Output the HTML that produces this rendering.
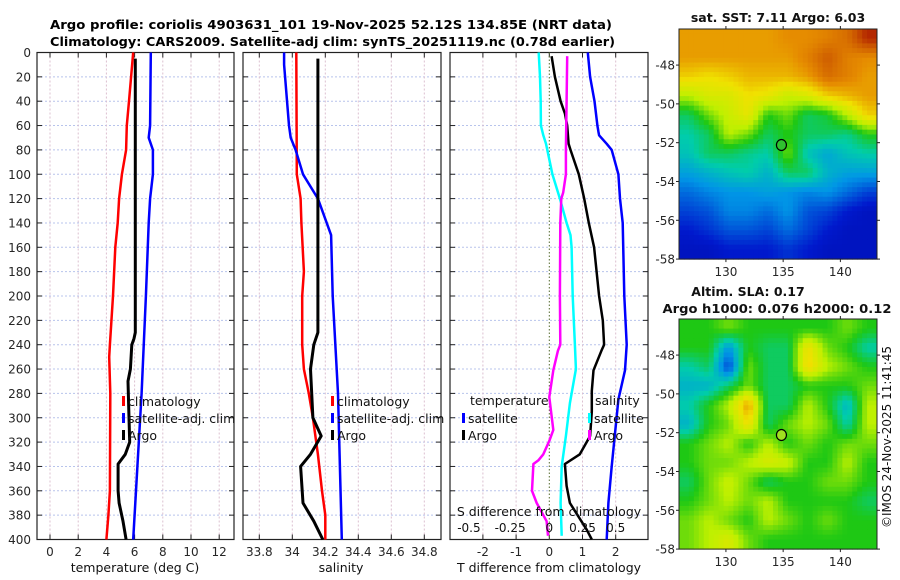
<!DOCTYPE html>
<html><head><meta charset="utf-8"><style>
html,body{margin:0;padding:0;background:#fff;}
svg{display:block;font-family:"DejaVu Sans","Liberation Sans",sans-serif;}
</style></head><body>
<svg id="fig" width="900" height="580" viewBox="0 0 900 580" xmlns="http://www.w3.org/2000/svg">
<rect x="0" y="0" width="900" height="580" fill="#fff"/>
<text x="50" y="29" font-size="12.5" font-weight="bold" textLength="562" lengthAdjust="spacingAndGlyphs">Argo profile: coriolis 4903631_101 19-Nov-2025 52.12S 134.85E (NRT data)</text>
<text x="50" y="46" font-size="12.5" font-weight="bold" textLength="565" lengthAdjust="spacingAndGlyphs">Climatology: CARS2009. Satellite-adj clim: synTS_20251119.nc (0.78d earlier)</text>
<g id="layer"></g>
</svg>
<script>
// ---- profile data ----
const depthTicks=[0,20,40,60,80,100,120,140,160,180,200,220,240,260,280,300,320,340,360,380,400];
const tempTicks=[0,2,4,6,8,10,12];
const salTicks=[33.8,34,34.2,34.4,34.6,34.8];
const tdiffTicks=[-2,-1,0,1,2];
const sdiffTicks=[-0.5,-0.25,0,0.25,0.5];

const tClimDepth=[0,40,60,80,100,120,140,160,200,240,250,280,360,380,400];
const tClimVal=[5.9,5.6,5.45,5.4,5.1,4.9,4.8,4.63,4.47,4.25,4.2,4.28,4.25,4.14,4.0];
const tSatDepth=[0,60,70,80,100,120,140,200,280,320,400];
const tSatVal=[7.15,7.1,7.0,7.3,7.3,7.1,7.0,6.8,6.5,6.3,5.9];
const tArgoDepth=[5,230,235,240,260,270,300,320,330,338,360,370,385,400];
const tArgoVal=[6.05,6.05,5.96,5.8,5.7,5.53,5.6,5.65,5.34,4.83,4.83,4.9,5.18,5.4];

const sClimDepth=[0,100,120,140,180,200,240,260,280,300,330,360,380,400];
const sClimVal=[34.024,34.027,34.05,34.055,34.07,34.06,34.06,34.07,34.10,34.125,34.155,34.18,34.2,34.2];
const sSatDepth=[0,10,60,70,80,100,120,150,200,280,400];
const sSatVal=[33.95,33.95,33.98,33.99,34.02,34.065,34.155,34.235,34.245,34.277,34.3];
const sArgoDepth=[5,230,240,260,300,315,330,340,370,385,400];
const sArgoVal=[34.155,34.155,34.13,34.11,34.125,34.175,34.11,34.05,34.065,34.13,34.185];

const dTSatDepth=[0,20,40,60,65,68,75,80,100,120,140,200,240,261,285,340,370,400];
const dTSatVal=[1.16,1.23,1.36,1.45,1.48,1.5,1.73,1.88,2.08,2.13,2.21,2.26,2.33,2.28,2.08,1.88,1.78,1.73];
const dSSatDepth=[0,20,40,60,68,75,80,100,120,140,150,160,200,240,260,288,315,340,370,397];
const dSSatVal=[-0.08,-0.07,-0.065,-0.063,-0.045,-0.025,-0.015,0.023,0.08,0.13,0.16,0.168,0.176,0.193,0.2,0.155,0.125,0.093,0.085,0.093];
const dTArgoDepth=[3,20,40,50,60,75,80,100,120,140,160,200,220,240,245,261,278,295,315,330,338,356,370,392,400];
const dTArgoVal=[0.07,0.17,0.34,0.47,0.54,0.58,0.64,0.89,1.05,1.19,1.35,1.5,1.61,1.65,1.57,1.33,1.28,1.28,1.23,0.92,0.47,0.52,0.62,1.13,1.28];
const dSArgoDepth=[3,40,80,100,115,120,140,200,240,245,261,283,310,319,330,335,338,360,370,385,397];
const dSArgoVal=[0.135,0.13,0.125,0.125,0.105,0.09,0.083,0.08,0.083,0.065,0.03,0.0,0.03,0.0,-0.045,-0.083,-0.12,-0.13,-0.095,-0.02,-0.01];

// ---- map data (colormap index 0..1) ----
const sstGrid=[
[0.78,0.78,0.78,0.78,0.78,0.8,0.8,0.82,0.85,0.95],
[0.78,0.78,0.78,0.78,0.78,0.78,0.82,0.88,0.82,0.8],
[0.72,0.7,0.72,0.75,0.75,0.75,0.78,0.85,0.82,0.78],
[0.6,0.65,0.65,0.7,0.68,0.62,0.65,0.72,0.75,0.78],
[0.45,0.55,0.62,0.68,0.5,0.55,0.45,0.48,0.6,0.72],
[0.4,0.45,0.6,0.55,0.45,0.5,0.45,0.45,0.42,0.5],
[0.38,0.45,0.45,0.42,0.4,0.55,0.38,0.33,0.38,0.4],
[0.32,0.35,0.38,0.4,0.35,0.45,0.45,0.35,0.32,0.32],
[0.25,0.28,0.3,0.3,0.32,0.3,0.28,0.3,0.25,0.2],
[0.2,0.22,0.28,0.28,0.25,0.3,0.22,0.2,0.15,0.12],
[0.15,0.18,0.22,0.22,0.2,0.25,0.2,0.15,0.12,0.12],
[0.12,0.12,0.15,0.15,0.15,0.18,0.15,0.12,0.12,0.12]];
const slaGrid=[
[0.5,0.5,0.55,0.5,0.5,0.5,0.5,0.5,0.55,0.5],
[0.5,0.5,0.3,0.5,0.45,0.45,0.7,0.55,0.5,0.4],
[0.4,0.45,0.2,0.55,0.45,0.45,0.72,0.6,0.55,0.5],
[0.35,0.35,0.45,0.55,0.45,0.45,0.5,0.5,0.5,0.55],
[0.4,0.5,0.6,0.78,0.45,0.45,0.6,0.5,0.35,0.6],
[0.35,0.5,0.55,0.7,0.45,0.55,0.6,0.55,0.4,0.6],
[0.5,0.55,0.6,0.5,0.6,0.5,0.55,0.5,0.55,0.55],
[0.5,0.55,0.55,0.6,0.65,0.62,0.5,0.5,0.6,0.5],
[0.45,0.55,0.62,0.55,0.45,0.5,0.5,0.55,0.55,0.5],
[0.5,0.55,0.6,0.55,0.6,0.5,0.5,0.5,0.5,0.45],
[0.55,0.6,0.55,0.5,0.6,0.55,0.5,0.55,0.5,0.5],
[0.55,0.6,0.65,0.55,0.5,0.5,0.5,0.5,0.5,0.5]];
const latTicks=[-48,-50,-52,-54,-56,-58];
const lonTicks=[130,135,140];
const argoLon=[134.85];
const argoLat=[-52.12];

const NS="http://www.w3.org/2000/svg";
const L=document.getElementById('layer');
function mk(tag,at,parent){const e=document.createElementNS(NS,tag);for(const k in at)e.setAttribute(k,at[k]);(parent||L).appendChild(e);return e;}

const Y0=52.5, Y1=539.5;
const yD=d=>Y0+d*(Y1-Y0)/400;
const xT=v=>50+v*14.1;
const xS=v=>259.3+(v-33.8)*165;
const xDT=v=>549.3+v*33.2;
const xDS=v=>549.3+v*132.8;

const panels=[{x0:37,x1:234,name:'temperature-panel',ticks:tempTicks,fx:xT},
{x0:243,x1:441,name:'salinity-panel',ticks:salTicks,fx:xS},
{x0:450,x1:648,name:'difference-panel',ticks:tdiffTicks,fx:xDT}];

panels.forEach((p,pi)=>{
 const g=mk('g',{});
 
 
 depthTicks.forEach(d=>{
  if(d>0&&d<400){const l=mk('line',{x1:p.x0,x2:p.x1,y1:yD(d),y2:yD(d),stroke:'#b8c4ec','stroke-width':1,'stroke-dasharray':'2,2'},g);
  
  }
  mk('line',{x1:p.x0,x2:p.x0+5,y1:yD(d),y2:yD(d),stroke:'#222'},g);
  mk('line',{x1:p.x1-5,x2:p.x1,y1:yD(d),y2:yD(d),stroke:'#222'},g);
 });
 p.ticks.forEach(t=>{
  const x=p.fx(t);
  const l=mk('line',{x1:x,x2:x,y1:Y0,y2:Y1,stroke:(pi==2&&t==0)?'none':'#dcc0d0','stroke-width':1,'stroke-dasharray':'2,2'},g);
  
  
  mk('line',{x1:x,x2:x,y1:Y1,y2:Y1-5,stroke:'#222'},g);
  mk('line',{x1:x,x2:x,y1:Y0,y2:Y0+5,stroke:'#222'},g);
  const tx=mk('text',{x:x,y:556,'font-size':12,'text-anchor':'middle',fill:'#262626'},g);
  tx.textContent=String(t);
  
  
 });
 const fr=mk('rect',{x:p.x0,y:Y0,width:p.x1-p.x0,height:Y1-Y0,fill:'none',stroke:'#222','stroke-width':1.2},g);
 
 
});
depthTicks.forEach(d=>{
 const t=mk('text',{x:31,y:yD(d)+4.5,'font-size':12,'text-anchor':'end',fill:'#262626'});
 t.textContent=String(d);
 
 
});
const zl=mk('line',{x1:xDT(0),x2:xDT(0),y1:Y0,y2:Y1,stroke:'#556b2f','stroke-width':1,'stroke-dasharray':'1.5,2'});



function series(depths,vals,fx,color,w,name){
 const pts=depths.map((d,i)=>fx(vals[i]).toFixed(1)+','+yD(d).toFixed(1)).join(' ');
 const pl=mk('polyline',{points:pts,fill:'none',stroke:color,'stroke-width':w,'stroke-linejoin':'round'});
 
 
}
series(tClimDepth,tClimVal,xT,'#f00',2.5,'temp-climatology-line');
series(tSatDepth,tSatVal,xT,'#00f',2.5,'temp-satellite-line');
series(tArgoDepth,tArgoVal,xT,'#000',3,'temp-argo-line');
series(sClimDepth,sClimVal,xS,'#f00',2.5,'sal-climatology-line');
series(sSatDepth,sSatVal,xS,'#00f',2.5,'sal-satellite-line');
series(sArgoDepth,sArgoVal,xS,'#000',3,'sal-argo-line');
series(dTSatDepth,dTSatVal,xDT,'#00f',2.5,'tdiff-satellite-line');
series(dSSatDepth,dSSatVal,xDS,'#0ff',2.5,'sdiff-satellite-line');
series(dTArgoDepth,dTArgoVal,xDT,'#000',2.5,'tdiff-argo-line');
series(dSArgoDepth,dSArgoVal,xDS,'#f0f',2.5,'sdiff-argo-line');

sdiffTicks.forEach(t=>{
 const tx=mk('text',{x:xDS(t)-(t<0?6:0)+(t==-0.5?-8:0),y:532,'font-size':12,'text-anchor':'middle',fill:'#111'});
 tx.textContent=String(t);
 
 
});
function txt(s,x,y,sz,anchor,name,extra){const t=mk('text',Object.assign({x:x,y:y,'font-size':sz,'text-anchor':anchor,fill:'#111'},extra||{}));t.textContent=s;return t;}
txt('S difference from climatology',549,516,12.5,'middle','sdiff-axis-title');
txt('temperature (deg C)',135,572,12.5,'middle','temp-axis-title');
txt('salinity',341,572,12.5,'middle','salinity-axis-title');
txt('T difference from climatology',549,572,12.5,'middle','tdiff-axis-title');

function legend(x,y,color,label,name){
 const m=mk('rect',{x:x,y:y-9,width:3,height:10,fill:color});
 
 
 txt(label,x+6,y+1,12.5,'start',name);
}
legend(122,405,'#f00','climatology','legend-temp-climatology');
legend(122,422,'#00f','satellite-adj. clim','legend-temp-satellite');
legend(122,439,'#000','Argo','legend-temp-argo');
legend(331,405,'#f00','climatology','legend-sal-climatology');
legend(331,422,'#00f','satellite-adj. clim','legend-sal-satellite');
legend(331,439,'#000','Argo','legend-sal-argo');
txt('temperature',470,405,12.5,'start','legend-temperature-header');
legend(462,422,'#00f','satellite','legend-tdiff-satellite');
legend(462,439,'#000','Argo','legend-tdiff-argo');
txt('salinity',595,405,12.5,'start','legend-salinity-header');
legend(588,422,'#0ff','satellite','legend-sdiff-satellite');
legend(588,439,'#f0f','Argo','legend-sdiff-argo');

// ---- maps ----
const stops=[[0,[0,0,140]],[0.15,[0,25,205]],[0.3,[0,150,230]],[0.4,[0,205,170]],[0.5,[30,200,20]],[0.6,[190,240,0]],[0.7,[240,225,0]],[0.8,[230,140,0]],[0.9,[200,80,0]],[1,[160,0,0]]];
function cmap(v){for(let i=1;i<stops.length;i++){if(v<=stops[i][0]){const a=stops[i-1],b=stops[i],f=(v-a[0])/(b[0]-a[0]);return 'rgb('+a[1].map((c,k)=>Math.round(c+(b[1][k]-c)*f)).join(',')+')';}}return 'rgb(160,0,0)';}
function sample(grid,fr,fc){
 const R=grid.length,C=grid[0].length;
 let r=Math.min(Math.max(fr-0.5,0),R-1),c=Math.min(Math.max(fc-0.5,0),C-1);
 const r0=Math.floor(r),c0=Math.floor(c),r1=Math.min(r0+1,R-1),c1=Math.min(c0+1,C-1),a=r-r0,b=c-c0;
 return grid[r0][c0]*(1-a)*(1-b)+grid[r0][c1]*(1-a)*b+grid[r1][c0]*a*(1-b)+grid[r1][c1]*a*b;
}
const MX0=679,MX1=877,LON0=125.9,LON1=143.2;
const xLon=lo=>MX0+(lo-LON0)*(MX1-MX0)/(LON1-LON0);
function drawMap(grid,top,name,markerFill){
 const yLat=la=>top+(-46.14-la)*19.4;
 const bottom=yLat(-58);
 const g=mk('g',{});
 
 
 const rows=grid.length,cols=grid[0].length,SUB=4;
 const cw=(MX1-MX0)/(cols*SUB),ch=(bottom-top)/(rows*SUB);
 for(let r=0;r<rows*SUB;r++)for(let c=0;c<cols*SUB;c++){
  const v=sample(grid,(r+0.5)/SUB,(c+0.5)/SUB);
  const cell=mk('rect',{x:(MX0+c*cw).toFixed(2),y:(top+r*ch).toFixed(2),width:(cw+0.5).toFixed(2),height:(ch+0.5).toFixed(2),fill:cmap(v)},g);
  
  
 }
 const fr=mk('rect',{x:MX0,y:top,width:MX1-MX0,height:bottom-top,fill:'none',stroke:'#222'},g);
 
 
 latTicks.forEach(la=>{
  const y=yLat(la);
  mk('line',{x1:MX0-3,x2:MX0,y1:y,y2:y,stroke:'#222'},g);
  mk('line',{x1:MX1,x2:MX1+3,y1:y,y2:y,stroke:'#222'},g);
  const t=mk('text',{x:675,y:y+4.5,'font-size':12,'text-anchor':'end',fill:'#262626'},g);
  t.textContent=String(la);
  
  
 });
 lonTicks.forEach(lo=>{
  const x=xLon(lo);
  mk('line',{x1:x,x2:x,y1:bottom,y2:bottom+3,stroke:'#222'},g);
  mk('line',{x1:x,x2:x,y1:top-3,y2:top,stroke:'#222'},g);
  const t=mk('text',{x:x,y:bottom+17,'font-size':12,'text-anchor':'middle',fill:'#262626'},g);
  t.textContent=String(lo);
  
  
 });
 const c=mk('ellipse',{cx:xLon(argoLon[0]),cy:yLat(argoLat[0]),rx:5,ry:5.5,fill:markerFill,stroke:'#000','stroke-width':1.2},g);
 
 
}
drawMap(sstGrid,29,'sst-map','#30c030');
drawMap(slaGrid,319,'sla-map','#a0e020');
txt('sat. SST: 7.11 Argo: 6.03',778,22,12.5,'middle','sst-map-title',{'font-weight':'bold'});
txt('Altim. SLA: 0.17',748,296,12.5,'middle','sla-map-title',{'font-weight':'bold'});
txt('Argo h1000: 0.076 h2000: 0.12',777,313,12.5,'middle','sla-argo-heights',{'font-weight':'bold','textLength':229,'lengthAdjust':'spacingAndGlyphs'});
txt('©IMOS 24-Nov-2025 11:41:45',0,0,12,'middle','imos-timestamp',{transform:'translate(891,437) rotate(-90)'});
</script>
</body></html>
